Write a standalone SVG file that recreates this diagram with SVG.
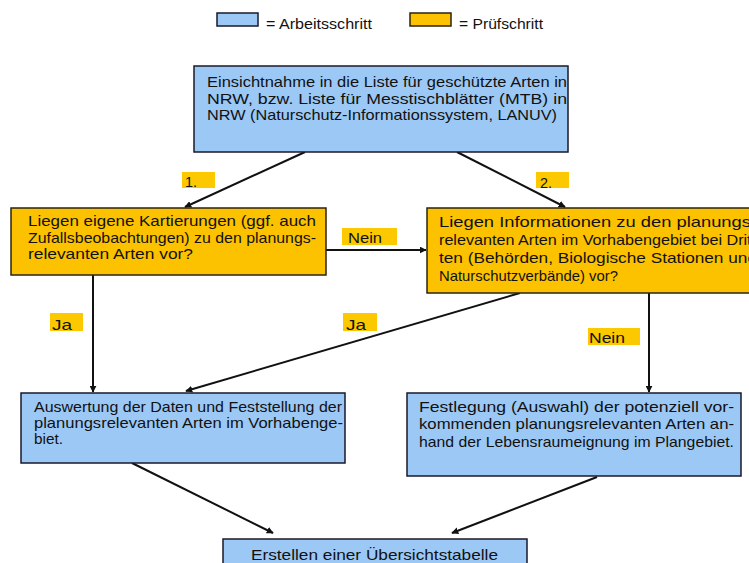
<svg xmlns="http://www.w3.org/2000/svg" width="749" height="563" viewBox="0 0 749 563">
<defs>
<style>
.blue{fill:#9cc8f5;stroke:#1a1a2a;stroke-width:1.5}
.yel{fill:#fcc200;stroke:#2a2410;stroke-width:1.5}
.lbl{fill:#fcc800}
text{font-family:"Liberation Sans",Arial,sans-serif;font-size:15px;fill:#111}
.c{stroke:#111;stroke-width:2;fill:none;marker-end:url(#ah)}
</style>
<marker id="ah" viewBox="0 0 10 10" refX="9" refY="5" markerWidth="7" markerHeight="7" orient="auto" markerUnits="userSpaceOnUse">
<path d="M0,0 L10,5 L0,10 z" fill="#111"/>
</marker>
</defs>
<rect width="749" height="563" fill="#fff"/>
<g id="legend">
<rect class="blue" x="217" y="13" width="41" height="13"/>
<text x="266" y="29" textLength="106" lengthAdjust="spacingAndGlyphs">= Arbeitsschritt</text>
<rect class="yel" x="410" y="13" width="41" height="13"/>
<text x="459" y="29" textLength="84" lengthAdjust="spacingAndGlyphs">= Prüfschritt</text>
</g>
<g id="connectors">
<line class="c" x1="305" y1="152" x2="185" y2="207"/>
<line class="c" x1="457" y1="152" x2="565" y2="207"/>
<line class="c" x1="326" y1="250" x2="426" y2="250"/>
<line class="c" x1="93" y1="275" x2="93" y2="392"/>
<line class="c" x1="520" y1="293" x2="186" y2="391"/>
<line class="c" x1="649" y1="293" x2="649" y2="392"/>
<line class="c" x1="132" y1="463" x2="273" y2="533"/>
<line class="c" x1="597" y1="477" x2="452" y2="533"/>
</g>
<g id="labels">
<rect class="lbl" x="182" y="172" width="33" height="16"/>
<text x="185" y="187" textLength="12" lengthAdjust="spacingAndGlyphs">1.</text>
<rect class="lbl" x="536" y="172" width="33" height="16"/>
<text x="540" y="188" textLength="12" lengthAdjust="spacingAndGlyphs">2.</text>
<rect class="lbl" x="342" y="228" width="55" height="17"/>
<text x="348" y="243" textLength="34" lengthAdjust="spacingAndGlyphs">Nein</text>
<rect class="lbl" x="50" y="313" width="33" height="18"/>
<text x="52" y="330" textLength="20" lengthAdjust="spacingAndGlyphs">Ja</text>
<rect class="lbl" x="343" y="313" width="34" height="18"/>
<text x="346" y="330" textLength="20" lengthAdjust="spacingAndGlyphs">Ja</text>
<rect class="lbl" x="588" y="328" width="52" height="17"/>
<text x="589" y="343" textLength="36" lengthAdjust="spacingAndGlyphs">Nein</text>
</g>
<g id="n_top">
<rect class="blue" x="194" y="66" width="374" height="86"/>
<text x="207" y="87" textLength="360" lengthAdjust="spacingAndGlyphs">Einsichtnahme in die Liste für geschützte Arten in</text>
<text x="207" y="104" textLength="360" lengthAdjust="spacingAndGlyphs">NRW, bzw. Liste für Messtischblätter (MTB) in</text>
<text x="207" y="120" textLength="350" lengthAdjust="spacingAndGlyphs">NRW (Naturschutz-Informationssystem, LANUV)</text>
</g>
<g id="n_left">
<rect class="yel" x="11" y="208" width="315" height="67"/>
<text x="28" y="226" textLength="288" lengthAdjust="spacingAndGlyphs">Liegen eigene Kartierungen (ggf. auch</text>
<text x="28" y="243" textLength="288" lengthAdjust="spacingAndGlyphs">Zufallsbeobachtungen) zu den planungs-</text>
<text x="28" y="259" textLength="165" lengthAdjust="spacingAndGlyphs">relevanten Arten vor?</text>
</g>
<g id="n_right">
<rect class="yel" x="427" y="208" width="345" height="85"/>
<text x="439" y="227" textLength="318" lengthAdjust="spacingAndGlyphs">Liegen Informationen zu den planungs-</text>
<text x="439" y="245" textLength="318" lengthAdjust="spacingAndGlyphs">relevanten Arten im Vorhabengebiet bei Drit-</text>
<text x="439" y="263" textLength="318" lengthAdjust="spacingAndGlyphs">ten (Behörden, Biologische Stationen und</text>
<text x="439" y="281" textLength="179" lengthAdjust="spacingAndGlyphs">Naturschutzverbände) vor?</text>
</g>
<g id="n_auswertung">
<rect class="blue" x="21" y="393" width="324" height="70"/>
<text x="34" y="412" textLength="308" lengthAdjust="spacingAndGlyphs">Auswertung der Daten und Feststellung der</text>
<text x="34" y="428" textLength="309" lengthAdjust="spacingAndGlyphs">planungsrelevanten Arten im Vorhabenge-</text>
<text x="34" y="444" textLength="29" lengthAdjust="spacingAndGlyphs">biet.</text>
</g>
<g id="n_festlegung">
<rect class="blue" x="407" y="393" width="334" height="83"/>
<text x="419" y="412" textLength="315" lengthAdjust="spacingAndGlyphs">Festlegung (Auswahl) der potenziell vor-</text>
<text x="419" y="429" textLength="315" lengthAdjust="spacingAndGlyphs">kommenden planungsrelevanten Arten an-</text>
<text x="419" y="447" textLength="315" lengthAdjust="spacingAndGlyphs">hand der Lebensraumeignung im Plangebiet.</text>
</g>
<g id="n_bottom">
<rect class="blue" x="223" y="539" width="304" height="40"/>
<text x="251" y="560" textLength="247" lengthAdjust="spacingAndGlyphs">Erstellen einer Übersichtstabelle</text>
</g>
</svg>
